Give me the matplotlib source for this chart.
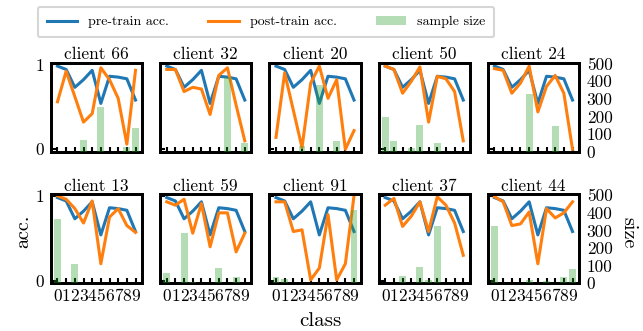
import matplotlib
matplotlib.use("Agg")
import matplotlib.pyplot as plt
from matplotlib.lines import Line2D
from matplotlib.patches import Patch

plt.rcParams['font.family'] = ['cmr10', 'DejaVu Serif']
plt.rcParams['mathtext.fontset'] = 'cm'
plt.rcParams['axes.unicode_minus'] = False
plt.rcParams['axes.formatter.use_mathtext'] = True

classes = list(range(10))
class_labels = [str(c) for c in classes]
clients = [66, 32, 20, 50, 24, 13, 59, 91, 37, 44]

pre_acc = [0.98, 0.94, 0.73, 0.82, 0.93, 0.54, 0.86, 0.85, 0.83, 0.58]

post_66 = [0.56, 0.92, 0.62, 0.32, 0.42, 0.96, 0.82, 0.60, 0.06, 0.93]
post_32 = [0.94, 0.94, 0.68, 0.73, 0.71, 0.41, 0.87, 0.96, 0.52, 0.10]
post_20 = [0.14, 0.90, 0.46, 0.02, 0.78, 0.98, 0.60, 0.82, 0.00, 0.22]
post_50 = [0.98, 0.94, 0.66, 0.80, 0.97, 0.32, 0.86, 0.83, 0.68, 0.10]
post_24 = [0.95, 0.93, 0.66, 0.78, 0.98, 0.44, 0.74, 0.87, 0.66, 0.00]
post_13 = [1.00, 0.96, 0.85, 0.68, 0.94, 0.20, 0.75, 0.85, 0.65, 0.57]
post_59 = [0.93, 0.89, 0.96, 0.56, 0.91, 0.40, 0.80, 0.80, 0.34, 0.56]
post_91 = [0.93, 0.93, 0.58, 0.60, 0.01, 0.15, 0.78, 0.01, 0.20, 1.00]
post_37 = [0.89, 0.97, 0.64, 0.76, 0.93, 0.58, 0.99, 0.89, 0.68, 0.30]
post_44 = [0.99, 0.93, 0.65, 0.67, 0.81, 0.20, 0.85, 0.74, 0.80, 0.93]

size_66 = [0, 0, 0, 67, 0, 256, 0, 0, 25, 135]
size_32 = [0, 0, 0, 0, 0, 0, 0, 425, 0, 48]
size_20 = [0, 0, 0, 35, 0, 380, 0, 63, 0, 0]
size_50 = [200, 62, 0, 20, 151, 0, 48, 0, 0, 0]
size_24 = [0, 0, 0, 0, 327, 0, 0, 146, 0, 0]
size_13 = [364, 0, 109, 0, 0, 0, 0, 0, 0, 0]
size_59 = [57, 0, 287, 10, 0, 0, 89, 0, 34, 0]
size_91 = [34, 26, 0, 0, 0, 0, 0, 0, 0, 415]
size_37 = [0, 0, 40, 0, 94, 18, 325, 0, 0, 0]
size_44 = [325, 0, 0, 0, 19, 0, 15, 0, 38, 81]

post_all = [post_66, post_32, post_20, post_50, post_24,
            post_13, post_59, post_91, post_37, post_44]
size_all = [size_66, size_32, size_20, size_50, size_24,
            size_13, size_59, size_91, size_37, size_44]

blue = '#1f77b4'
orange = '#ff7f0e'
green = '#2ca02c'

fig, axes = plt.subplots(2, 5, figsize=(6.43, 3.31), dpi=100)
fig.subplots_adjust(left=0.0793, right=0.9005, top=0.8106, bottom=0.1441,
                    wspace=0.2, hspace=0.475)

for k, ax in enumerate(axes.flat):
    r, c = divmod(k, 5)
    ax.plot(classes, pre_acc, color=blue, lw=2.2, zorder=2)
    ax.plot(classes, post_all[k], color=orange, lw=2.2, zorder=2)
    ax.set_ylim(-0.03, 1.02)
    ax.set_xlim(-0.75, 9.75)
    ax.set_yticks([0, 1])
    ax.set_xticks(classes)
    ax.tick_params(axis='both', direction='in', length=3.5, width=1.5,
                   labelsize=12.5)
    ax.tick_params(axis='y', pad=5)
    ax.tick_params(axis='x', pad=4)
    if c == 0:
        ax.set_yticklabels(['0', '1'])
    else:
        ax.set_yticklabels([])
    if r == 1:
        ax.set_xticklabels(class_labels)
    else:
        ax.set_xticklabels([])
    for s in ax.spines.values():
        s.set_linewidth(2.0)
    ax.set_title(f'client {clients[k]}', fontsize=12.5, pad=2.5)

    ax2 = ax.twinx()
    ax2.bar(classes, size_all[k], width=0.8, color=green, alpha=0.35,
            zorder=3)
    ax2.set_ylim(0, 505)
    ax2.set_yticks([0, 100, 200, 300, 400, 500])
    ax2.tick_params(axis='y', length=0, labelsize=12.5, pad=5.5)
    if c == 4:
        ax2.set_yticklabels(['0', '100', '200', '300', '400', '500'])
    else:
        ax2.set_yticklabels([])
    for s in ax2.spines.values():
        s.set_linewidth(2.0)

fig.text(23 / 643, 1 - 231 / 331, 'acc.', rotation=90, ha='center',
         va='center', fontsize=14.5)
fig.text(628 / 643, 1 - 233 / 331, 'size', rotation=270, ha='center',
         va='center', fontsize=14.5)
fig.text(320 / 643, 1 - 321 / 331, 'class', ha='center', va='center',
         fontsize=15)

handles = [Line2D([0], [0], color=blue, lw=2.2),
           Line2D([0], [0], color=orange, lw=2.2),
           Patch(facecolor=green, alpha=0.35, edgecolor='none')]
labels = ['pre-train acc.', 'post-train acc.', 'sample size']
leg = fig.legend(handles, labels, loc='center', ncol=3,
                 bbox_to_anchor=(266 / 643, 1 - 22 / 331), fontsize=10,
                 columnspacing=2.8, handlelength=2.2, borderpad=0.65,
                 frameon=True)
leg.get_frame().set_linewidth(1.5)

fig.savefig('out.png', dpi=100)
